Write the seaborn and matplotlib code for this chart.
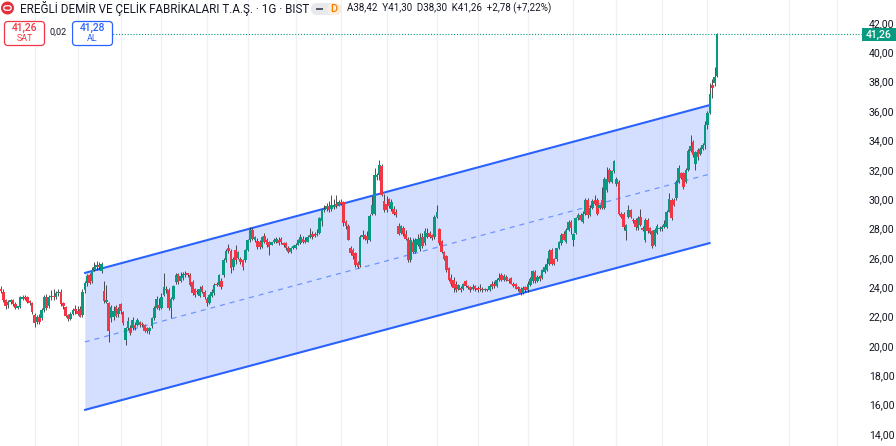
import numpy as np
import pandas as pd
import seaborn as sns
import matplotlib
matplotlib.use("Agg")
import matplotlib.pyplot as plt
from matplotlib.patches import FancyBboxPatch, Circle, Rectangle

# Daily candles, oldest first
opens = [
    23.9,23.7,23.1,22.8,23.0,23.1,22.85,22.6,22.65,23.2,
    23.35,23.3,23.0,22.9,22.1,21.6,22.0,21.9,22.45,23.35,
    22.7,23.3,23.4,23.3,23.6,23.7,22.9,22.65,22.1,21.85,
    22.2,22.45,22.4,22.5,22.1,23.8,24.3,24.8,24.4,25.2,
    25.35,25.5,25.1,23.75,23.0,22.95,21.9,22.0,22.65,22.2,
    22.86,22.3,20.4,21.2,21.2,21.2,21.4,21.45,21.6,21.45,
    21.4,21.2,21.0,21.35,21.9,22.6,22.8,22.6,23.5,23.9,
    23.8,22.6,23.2,24.35,24.9,24.45,24.6,24.8,24.9,24.8,
    24.35,23.85,23.75,23.4,24.04,23.7,23.2,22.95,23.4,23.6,
    24.25,24.15,24.45,24.8,25.85,26.7,26.5,25.4,26.55,26.0,
    25.95,25.85,25.85,26.53,27.2,27.9,27.2,27.15,27.1,26.75,
    27.5,27.25,27.05,26.9,27.1,27.1,27.25,27.3,27.0,27.0,
    26.7,26.42,26.7,26.65,26.9,27.0,27.3,27.25,27.1,27.45,
    27.6,27.65,27.55,27.7,28.5,29.25,29.3,29.5,29.35,29.45,
    29.7,29.55,29.83,29.83,28.45,28.2,26.65,26.55,26.3,25.65,
    25.5,27.45,27.55,27.5,27.2,29.0,29.0,31.5,31.65,32.25,
    29.9,29.7,30.0,29.3,29.35,29.15,28.2,27.7,28.0,27.65,
    27.3,25.85,27.1,26.4,26.9,26.6,27.4,27.0,27.45,27.7,
    27.55,27.4,28.8,27.95,27.15,26.4,26.1,25.3,24.6,24.5,
    24.25,23.9,23.95,23.85,24.4,24.05,24.0,23.88,24.1,23.98,
    23.98,23.9,23.8,23.85,23.8,24.25,24.25,24.1,24.5,24.85,
    24.5,24.7,24.5,24.6,24.25,24.2,24.0,23.9,23.6,24.0,
    23.8,24.15,24.4,25.05,24.4,24.75,24.65,25.05,25.15,25.6,
    26.55,25.9,25.9,26.65,27.0,27.65,27.1,27.9,28.45,27.25,
    27.7,28.7,28.9,28.45,29.0,29.95,28.95,29.4,29.95,29.95,
    29.4,29.95,29.4,30.6,32.0,31.2,31.9,31.0,31.2,29.0,
    29.0,27.8,28.8,29.25,28.6,28.6,28.0,28.8,28.05,27.2,
    28.6,28.0,27.8,26.85,27.7,27.95,27.95,28.1,28.1,29.15,
    29.95,29.95,30.05,31.2,31.75,31.75,31.2,32.0,33.3,33.9,
    32.4,33.35,33.1,33.45,33.7,35.05,35.9,37.8,37.9,38.42,
]
closes = [
    23.75,23.1,22.75,23.0,23.05,22.85,22.6,22.65,23.3,23.3,
    23.2,23.0,22.95,22.3,21.55,22.0,21.6,22.45,23.35,22.6,
    23.3,23.4,23.3,23.6,23.7,22.85,22.7,22.05,21.85,22.15,
    22.45,22.4,22.2,22.0,23.7,24.3,24.75,24.3,25.2,25.35,
    25.5,25.35,25.6,23.05,23.15,21.0,22.65,22.4,22.05,22.5,
    22.38,21.55,21.2,21.7,20.9,21.75,21.2,21.8,21.45,21.4,
    21.05,21.0,21.2,21.9,22.6,23.2,22.6,23.3,24.0,23.8,
    22.6,23.2,24.05,24.8,24.35,24.75,24.9,24.9,24.85,24.15,
    23.6,23.45,23.65,23.9,23.7,23.3,22.9,23.45,23.7,24.15,
    24.15,24.8,24.0,25.85,26.5,26.5,25.3,25.95,25.85,26.4,
    25.7,25.4,26.53,27.2,27.9,27.3,27.4,26.75,26.75,27.4,
    27.1,26.9,26.75,27.1,27.25,27.3,27.0,27.05,26.85,26.65,
    26.4,26.7,26.75,26.9,27.2,27.45,27.1,27.1,27.45,27.55,
    27.4,27.5,27.65,28.7,29.25,29.3,29.5,29.25,29.6,29.6,
    29.55,29.8,29.7,28.35,28.2,27.25,26.3,26.1,25.5,25.4,
    27.45,27.5,27.3,27.2,28.87,29.6,31.65,31.65,32.3,30.3,
    29.25,29.25,29.5,29.8,29.0,28.9,27.65,28.15,27.65,27.3,
    25.85,27.2,26.4,27.2,27.3,27.35,26.8,27.8,27.7,27.45,
    27.35,28.8,29.15,27.0,26.4,25.95,25.15,24.5,24.25,23.95,
    23.8,24.15,23.8,24.25,24.05,23.95,23.8,24.0,23.85,23.8,
    23.85,23.8,23.85,23.8,24.1,24.0,24.05,24.5,24.55,24.5,
    24.75,24.5,24.4,24.25,24.05,23.9,23.85,23.6,23.95,23.8,
    24.25,24.55,25.1,24.4,24.7,24.55,25.15,25.4,25.6,26.5,
    25.6,25.6,26.65,27.1,27.55,27.25,27.9,28.45,28.0,27.6,
    28.7,28.9,28.6,29.0,29.95,28.95,29.4,29.9,29.7,29.0,
    29.6,29.4,31.4,31.4,31.2,31.9,32.6,31.4,29.0,28.8,
    28.1,28.25,29.25,28.8,28.5,28.1,28.7,28.25,27.9,28.6,
    27.8,27.7,26.8,27.9,28.15,28.0,28.1,28.3,29.15,30.0,
    28.7,29.6,31.2,32.1,31.45,30.85,32.0,33.3,33.6,33.0,
    33.2,32.85,33.45,33.7,35.05,35.85,37.15,37.55,38.3,41.26,
]
highs = [
    24.05,23.85,23.2,23.1,23.2,23.2,23.0,22.75,23.4,23.45,
    23.5,23.4,23.15,23.0,22.25,22.1,22.2,22.6,23.5,23.55,
    23.45,23.8,23.85,23.75,23.85,23.85,23.0,22.75,22.2,22.3,
    22.6,22.8,22.75,22.7,23.9,24.45,24.9,25.0,25.4,25.7,
    25.8,25.7,25.75,24.4,24.15,23.0,22.8,22.75,22.8,22.65,
    22.95,22.4,21.3,21.95,21.4,21.95,21.6,21.9,21.7,21.6,
    21.5,21.3,21.3,22.0,22.75,23.4,23.25,23.6,25.0,24.1,
    23.95,23.3,24.15,25.0,25.0,25.05,25.05,25.1,25.0,24.95,
    24.5,23.95,23.9,24.05,24.15,23.8,23.3,23.55,23.85,24.3,
    24.35,24.9,24.6,26.0,26.6,26.95,26.6,26.05,26.9,26.5,
    26.05,25.95,26.6,27.3,28.1,28.05,27.5,27.35,27.2,27.5,
    27.7,27.35,27.15,27.1,27.35,27.45,27.4,27.4,27.1,27.1,
    26.8,26.75,26.85,27.0,27.3,27.6,27.5,27.4,27.55,28.0,
    27.8,27.75,27.95,28.8,29.35,29.6,29.75,29.9,30.3,30.0,
    30.25,29.95,30.0,29.9,28.55,28.3,26.8,26.65,26.4,25.8,
    27.55,27.9,27.65,27.85,29.0,30.2,32.1,31.75,32.65,32.4,
    30.35,30.2,30.1,30.0,29.5,29.3,28.4,28.25,28.2,27.9,
    27.4,27.45,27.35,27.35,27.6,27.7,27.7,28.0,28.0,27.85,
    27.65,28.9,29.6,28.05,27.2,26.5,26.2,25.4,24.9,24.7,
    24.4,24.2,24.05,24.3,24.5,24.15,24.1,24.2,24.15,24.05,
    24.2,24.0,23.95,23.9,24.2,24.4,24.4,24.6,24.95,24.95,
    24.9,24.8,24.6,24.7,24.35,24.3,24.1,24.0,24.05,24.1,
    24.4,24.7,25.2,25.15,24.85,24.85,25.25,25.55,26.0,26.6,
    26.65,26.0,26.7,27.15,27.7,27.8,28.0,28.55,28.55,27.7,
    28.8,29.05,29.05,29.2,30.1,30.05,29.6,30.0,30.3,30.05,
    29.7,30.85,31.5,32.2,32.1,32.0,32.65,31.5,31.3,29.1,
    29.1,28.3,29.6,29.3,28.7,28.7,28.85,29.3,28.15,28.7,
    28.7,28.1,27.9,28.0,28.3,28.15,28.25,28.6,29.25,30.4,
    30.05,30.1,31.3,32.3,31.85,31.85,32.1,33.4,34.4,34.0,
    33.3,33.5,33.55,33.8,35.3,36.0,37.9,38.2,39.0,41.3,
]
lows = [
    23.6,23.0,22.5,22.6,22.85,22.7,22.5,22.5,22.55,23.15,
    23.1,22.9,22.8,22.2,21.3,21.5,21.5,21.8,22.3,22.45,
    22.6,23.1,23.1,23.2,23.4,22.7,22.5,22.0,21.7,21.75,
    22.1,22.2,22.1,21.95,21.95,23.6,24.1,24.2,24.3,25.1,
    25.2,25.2,25.0,22.9,22.9,20.3,21.6,21.8,21.95,22.0,
    22.2,21.4,20.07,21.1,20.75,21.1,21.1,21.35,21.3,21.3,
    20.95,20.9,20.8,21.25,21.8,22.5,22.45,22.5,23.4,23.6,
    22.45,21.9,23.1,24.25,24.2,24.35,24.5,24.7,24.7,24.05,
    23.5,23.3,23.55,23.3,23.6,23.2,22.75,22.85,23.3,23.5,
    24.05,24.05,23.9,24.7,25.75,26.35,24.95,25.2,25.6,25.9,
    25.55,25.2,25.75,26.45,27.1,27.2,27.1,26.6,26.6,26.65,
    27.0,26.75,26.2,26.85,27.0,27.0,26.9,26.95,26.75,26.55,
    26.35,26.35,26.6,26.6,26.85,26.95,27.0,27.0,27.05,27.35,
    27.3,27.4,27.5,27.6,28.2,29.15,29.2,29.1,29.2,29.35,
    29.4,29.5,29.6,28.2,27.95,27.2,26.2,25.95,25.4,25.3,
    25.35,27.3,27.2,27.0,27.15,28.9,28.9,31.3,31.3,30.2,
    29.15,29.15,29.4,29.2,28.9,28.75,27.55,27.6,27.5,27.2,
    25.7,25.75,26.3,26.3,26.8,26.5,26.7,26.9,27.35,27.35,
    27.25,27.3,28.7,26.9,26.3,25.85,25.05,24.4,24.1,23.7,
    23.7,23.8,23.7,23.8,24.0,23.85,23.7,23.8,23.75,23.7,
    23.75,23.7,23.75,23.75,23.75,23.9,23.95,24.0,24.4,24.4,
    24.4,24.4,24.3,24.2,24.0,23.85,23.75,23.45,23.55,23.7,
    23.7,24.05,24.3,24.3,24.35,24.45,24.55,24.95,25.1,25.5,
    25.5,25.5,25.8,26.6,26.9,27.2,27.0,27.85,27.6,26.8,
    27.6,28.6,28.5,28.4,28.9,28.7,28.85,29.3,29.6,28.9,
    29.3,29.3,29.3,30.5,31.1,31.1,31.8,30.9,28.95,28.7,
    27.9,27.2,28.7,28.7,28.4,27.9,27.9,28.2,27.8,27.1,
    27.7,27.6,26.65,26.8,27.6,27.85,27.85,28.0,28.0,29.1,
    28.6,29.5,29.95,31.1,31.35,30.7,31.1,31.9,33.2,32.9,
    32.0,32.7,33.0,33.35,33.4,34.8,35.8,36.9,37.7,38.3,
]

# Regression channel: first and last session of each edge
channel_sessions = [35, 296]
channel_upper = [24.97, 36.41]
channel_middle = [20.27, 31.71]
channel_lower = [15.64, 27.01]

price_ticks = [14, 16, 18, 20, 22, 24, 26, 28, 30, 32, 34, 36, 38, 40, 42]
month_sessions = [14, 32, 50, 67, 86, 103, 123, 142, 161, 182, 199, 220, 239, 257, 276, 295, 329, 349]

last_price = 41.26
title = "EREĞLİ DEMİR VE ÇELİK FABRİKALARI T.A.Ş. · 1G · BIST"
ohlc_label = "A38,42  Y41,30  D38,30  K41,26  +2,78 (+7,22%)"

UP, DOWN, BLUE = "#089981", "#f23645", "#2962ff"
INK = "#131722"

sns.set_theme(style="white", rc={"axes.edgecolor": "white", "font.family": "Roboto"})
fig = plt.figure(figsize=(8.96, 4.46), dpi=100)
ax = fig.add_axes([0, 0, 862 / 896, 1])

candles = pd.DataFrame({"open": opens, "high": highs, "low": lows, "close": closes})
candles["session"] = np.arange(len(candles))
step = 716 / (len(candles) - 1)
ax.set_xlim(-1 / step, 861 / step)
ax.set_ylim(14 - 12 / 14.68, 42 + 23 / 14.68)

# Channel fill and edges
ax.fill_between(channel_sessions, channel_lower, channel_upper, color=BLUE, alpha=0.2, lw=0, zorder=1)
for values, kwargs in [
    (channel_upper, dict(lw=1.5)),
    (channel_lower, dict(lw=1.5)),
    (channel_middle, dict(lw=0.9, ls=(0, (4, 4)), alpha=0.6)),
]:
    sns.lineplot(x=channel_sessions, y=values, color=BLUE, ax=ax, zorder=2, **kwargs)

# Candles: wicks first, bodies above
rising = candles["close"] >= candles["open"]
ax.vlines(candles["session"], candles["low"], candles["high"], color="#222222", lw=0.55, zorder=3)
ax.bar(candles["session"], (candles["close"] - candles["open"]).abs().clip(lower=0.1),
       bottom=candles[["open", "close"]].min(axis=1), width=1.08,
       color=np.where(rising, UP, DOWN), linewidth=0, zorder=4)

# Last price line
ax.axhline(last_price, color=UP, lw=0.8, ls=(0, (1, 1.6)), zorder=2)

ax.set_xticks(month_sessions, labels=[])
ax.grid(True, axis="x", color="#eef0f5", lw=0.9)
ax.grid(False, axis="y")
ax.set_axisbelow(True)
ax.yaxis.tick_right()
ax.set_yticks(price_ticks, labels=[f"{v},00" for v in price_ticks])
ax.tick_params(axis="y", length=0, pad=5, labelsize=7.6, labelcolor=INK)
ax.tick_params(axis="x", length=0)
for spine in ax.spines.values():
    spine.set_visible(False)

# Header and order widgets, laid out in figure pixels
ui = fig.add_axes([0, 0, 1, 1], facecolor="none")
ui.set_xlim(0, 896)
ui.set_ylim(446, 0)
ui.axis("off")

ui.add_patch(Rectangle((862, 28), 34, 13, color=UP, lw=0))
ui.text(879, 34.7, "41,26", color="white", fontsize=7.6, ha="center", va="center", fontweight="medium")

ui.add_patch(Circle((7.5, 8), 6.5, color="#e0303a", lw=0))
ui.add_patch(FancyBboxPatch((3.8, 5.8), 7.4, 4.4, boxstyle="round,pad=0,rounding_size=2.2",
                            fc="none", ec="white", lw=0.9))
ui.text(20, 8, title, color=INK, fontsize=8.35, ha="left", va="center")

ui.add_patch(FancyBboxPatch((311, 3), 30, 12, boxstyle="round,pad=0,rounding_size=6", fc="#e8e9ec", ec="none"))
ui.add_patch(FancyBboxPatch((327, 3), 14, 12, boxstyle="round,pad=0,rounding_size=6", fc="#fdeedb", ec="none"))
ui.add_patch(Rectangle((316, 8), 7, 2, color="#555a66", lw=0))
ui.text(333.5, 9, "D", color="#f57c00", fontsize=7.8, ha="center", va="center", fontweight="medium")
ui.text(347, 8.5, ohlc_label, color=INK, fontsize=7.05, ha="left", va="center")

for x0, color, price, side in [(4.5, DOWN, "41,26", "SAT"), (72.5, BLUE, "41,28", "AL")]:
    ui.add_patch(FancyBboxPatch((x0, 21.5), 40, 24, boxstyle="round,pad=0,rounding_size=3.5",
                                fc="white", ec=color, lw=0.9, zorder=5))
    ui.text(x0 + 20, 28.2, price, color=color, fontsize=7.4, ha="center", va="center", zorder=6, fontweight="medium")
    ui.text(x0 + 20, 38.5, side, color=color, fontsize=6.4, ha="center", va="center", zorder=6)
ui.add_patch(Rectangle((45.5, 28), 26, 12, color="white", lw=0, zorder=5))
ui.text(58.5, 32.5, "0,02", color=INK, fontsize=6.6, ha="center", va="center", zorder=6)
ui.add_patch(Rectangle((0, 28), 4.5, 12, color="white", lw=0, zorder=4))

fig.savefig("out.png", dpi=100)
